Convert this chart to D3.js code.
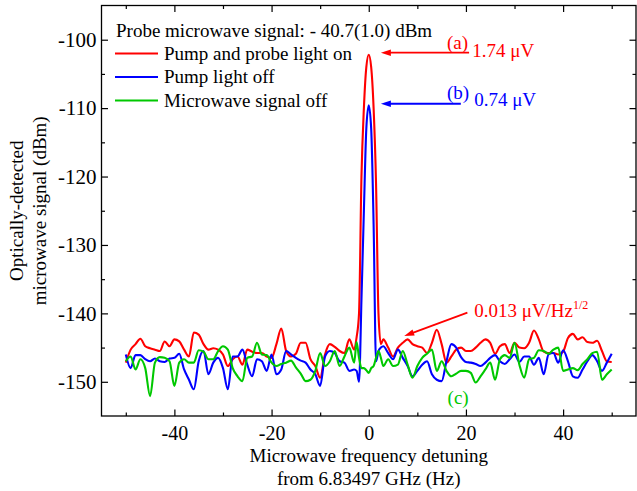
<!DOCTYPE html>
<html>
<head>
<meta charset="UTF-8">
<script src="https://d3js.org/d3.v7.min.js"></script>
<style>
  body { margin: 0; background: #fff; }
  svg text { font-family: "Liberation Serif", "Times New Roman", serif; }
  .tick line { stroke: #000; stroke-width: 1.2; }
  .tick text { font-size: 20px; fill: #000; }
  .yaxis .tick text { font-size: 21px; }
</style>
<title>Microwave signal</title>
</head>
<body>
<svg id="chart" width="637" height="491"></svg>
<script>
// detuning (Hz)
const freq = [-50,-49,-48,-47,-46,-45,-44,-43,-42,-41,
  -40,-39,-38,-37,-36,-35,-34,-33,-32,-31,
  -30,-29,-28,-27,-26,-25,-24,-23,-22,-21,
  -20,-19,-18,-17,-16,-15,-14,-13,-12,-11,
  -10,-9,-8,-7,-6,-5,-4,-3,
  -2.5,-2,-1.5,-1,-0.5,0,0.5,1,1.5,2,2.5,
  3,4,5,6,7,8,9,10,11,12,
  13,14,15,16,17,18,19,20,21,22,
  23,24,25,26,27,28,29,30,31,32,
  33,34,35,36,37,38,39,40,41,42,
  43,44,45,46,47,48,49,50];

// (a) pump and probe light on
const pumpProbeOn = [-147.2,-145.3,-144.5,-143.7,-144.8,-145.1,-145.3,-145.5,-144.1,-144.8,
  -143.8,-144.1,-145.3,-146.3,-142.8,-143.1,-144.5,-145.3,-145.1,-145.3,
  -146.0,-147.7,-146.7,-146.3,-147.5,-145.3,-145.6,-145.8,-145.8,-146.3,
  -146.5,-144.5,-142.2,-145.5,-146.3,-145.9,-144.3,-144.3,-146.7,-147.7,
  -149.4,-146.0,-144.5,-144.9,-145.5,-145.8,-143.8,-145.3,
  -143.5,-140,-120,-110,-104,-102.2,-104,-110,-121,-140,-144.5,
  -143.8,-145.0,-146.3,-145.0,-144.3,-143.8,-144.5,-144.8,-145.0,-145.8,
  -144.3,-142.4,-144.5,-147.2,-146.3,-145.3,-145.0,-145.5,-145.5,-145.0,
  -144.3,-143.8,-144.3,-145.9,-144.8,-144.5,-145.8,-144.3,-145.0,-145.1,
  -144.3,-142.5,-143.8,-145.6,-145.8,-145.8,-146.0,-145.6,-143.6,-143.0,
  -143.8,-143.5,-144.2,-144.3,-144.0,-145.5,-147.0,-147.1];

// (b) pump light off
const pumpOff = [-146.0,-148.0,-146.1,-146.1,-146.7,-147.0,-146.6,-147.0,-147.1,-146.6,
  -146.5,-145.9,-148.2,-149.7,-151.1,-147.0,-145.5,-148.9,-147.2,-146.5,
  -148.0,-151.1,-146.3,-146.3,-145.3,-147.5,-149.2,-146.7,-147.0,-148.4,
  -146.0,-148.9,-148.2,-145.5,-146.0,-146.5,-146.9,-147.2,-148.2,-148.9,
  -150.6,-146.3,-145.5,-145.8,-147.0,-147.2,-148.4,-148.2,
  -148.4,-150.0,-138,-125,-113,-109.6,-113,-127,-147,-145.5,-145.0,
  -144.8,-145.8,-146.7,-145.3,-146.5,-147.7,-149.2,-148.4,-147.5,-147.0,
  -148.9,-149.7,-149.9,-147.0,-144.5,-145.0,-146.4,-147.1,-147.2,-147.4,
  -147.7,-147.2,-146.5,-146.1,-147.0,-147.4,-146.7,-146.0,-147.1,-146.3,
  -146.3,-147.5,-146.5,-148.9,-146.0,-145.8,-147.2,-145.4,-147.0,-149.2,
  -149.4,-148.2,-147.0,-146.1,-147.0,-148.4,-147.2,-145.9];

// (c) microwave signal off
const microwaveOff = [-147.0,-146.3,-148.2,-146.7,-148.0,-152.1,-147.2,-146.4,-146.5,-147.0,
  -150.6,-147.2,-146.7,-147.2,-147.2,-145.4,-145.6,-146.7,-146.7,-145.5,
  -144.8,-145.3,-148.0,-149.2,-149.9,-146.5,-146.3,-144.3,-146.0,-146.1,
  -147.2,-147.7,-147.4,-147.2,-146.9,-147.9,-148.8,-149.9,-149.7,-148.4,
  -145.8,-147.7,-147.0,-145.5,-147.7,-146.3,-145.0,-147.2,
  -144.2,-146.5,-148.0,-148.0,-148.3,-148.7,-148.0,-147.7,-146.5,-145.5,-146.5,
  -147.7,-146.7,-147.7,-147.5,-145.5,-147.5,-149.4,-147.7,-146.5,-145.9,
  -145.3,-148.4,-147.0,-148.4,-149.2,-148.8,-148.4,-148.4,-148.7,-150.1,
  -149.2,-148.2,-147.2,-149.7,-146.7,-146.1,-146.5,-144.3,-147.5,-149.4,
  -146.7,-146.5,-145.4,-145.5,-145.9,-145.3,-145.0,-148.4,-148.2,-148.0,
  -148.3,-147.4,-146.7,-145.8,-145.6,-149.7,-148.9,-148.2];

const xTicks = [-40, -20, 0, 20, 40];
const xMinor = [-50, -30, -10, 10, 30, 50];
const yTicks = [-100, -110, -120, -130, -140, -150];
const yMinor = [-105, -115, -125, -135, -145];

const seriesNames = ["Pump and probe light on", "Pump light off", "Microwave signal off"];
const seriesColors = ["#ff0000", "#0000ff", "#00c800"];
const seriesValues = [pumpProbeOn, pumpOff, microwaveOff];

const svg = d3.select("#chart");
const plotLeft = 101.5, plotRight = 636, plotTop = 5.5, plotBottom = 416;

const x = d3.scaleLinear().domain([-55, 55]).range([plotLeft, plotRight]);
const y = d3.scaleLinear().domain([-155, -95]).range([plotBottom, plotTop]);

// ticks point inward on all four sides
function drawTicks(axis, values, size, tx, ty, labels, pad) {
  const a = axis.tickValues(values).tickSizeInner(-size).tickSizeOuter(0).tickPadding(pad || 3)
    .tickFormat(labels ? (d => String(d)) : "");
  const g = svg.append("g").attr("transform", "translate(" + tx + "," + ty + ")").call(a);
  g.select(".domain").remove();
  return g;
}
drawTicks(d3.axisBottom(x), xTicks, 6.5, 0, plotBottom, true, 10);
drawTicks(d3.axisBottom(x), xMinor, 3.5, 0, plotBottom, false);
drawTicks(d3.axisTop(x), xTicks, 6.5, 0, plotTop, false);
drawTicks(d3.axisTop(x), xMinor, 3.5, 0, plotTop, false);
drawTicks(d3.axisLeft(y), yTicks, 6.5, plotLeft, 0, true, 5).attr("class", "yaxis");
drawTicks(d3.axisLeft(y), yMinor, 3.5, plotLeft, 0, false);
drawTicks(d3.axisRight(y), yTicks, 6.5, plotRight, 0, false);
drawTicks(d3.axisRight(y), yMinor, 3.5, plotRight, 0, false);

svg.append("rect")
  .attr("x", plotLeft).attr("y", plotTop)
  .attr("width", plotRight - plotLeft).attr("height", plotBottom - plotTop)
  .attr("fill", "none").attr("stroke", "#000").attr("stroke-width", 1.3);

// lines
const line = d3.line()
  .x(d => x(d[0]))
  .y(d => y(d[1]))
  .curve(d3.curveMonotoneX);

seriesValues.forEach((vals, i) => {
  svg.append("path")
    .datum(d3.zip(freq, vals))
    .attr("fill", "none")
    .attr("stroke", seriesColors[i])
    .attr("stroke-width", 2.1)
    .attr("stroke-linejoin", "round")
    .attr("d", line);
});

// legend
const legend = svg.append("g").attr("font-size", 19);
legend.append("text").attr("x", 116).attr("y", 37)
  .text("Probe microwave signal: - 40.7(1.0) dBm");
seriesNames.forEach((name, i) => {
  const ly = 53.5 + i * 23.5;
  legend.append("line")
    .attr("x1", 115).attr("x2", 158).attr("y1", ly).attr("y2", ly)
    .attr("stroke", seriesColors[i]).attr("stroke-width", 2);
  legend.append("text").attr("x", 164).attr("y", ly + 6).text(name);
});

// annotations
function arrow(f1, v1, f2, v2, color) {
  const x1 = x(f1), y1 = y(v1), x2 = x(f2), y2 = y(v2);
  const len = Math.hypot(x2 - x1, y2 - y1), ux = (x2 - x1) / len, uy = (y2 - y1) / len;
  const hl = 10, hw = 3.2;
  const bx = x2 - ux * hl, by = y2 - uy * hl;
  svg.append("line")
    .attr("x1", x1).attr("y1", y1).attr("x2", bx + ux).attr("y2", by + uy)
    .attr("stroke", color).attr("stroke-width", 1.8);
  svg.append("path")
    .attr("d", "M" + x2 + "," + y2 + "L" + (bx - uy * hw) + "," + (by + ux * hw) +
      "L" + (bx + uy * hw) + "," + (by - ux * hw) + "Z")
    .attr("fill", color);
}
arrow(20.65, -101.9, 2.5, -101.9, seriesColors[0]);
arrow(18.95, -109.36, 2.5, -109.36, seriesColors[1]);
arrow(20.3, -139.9, 7.3, -143.3, seriesColors[0]);

function label(f, v, txt, color, anchor) {
  return svg.append("text").attr("x", x(f)).attr("y", y(v))
    .attr("font-size", 19).attr("fill", color)
    .attr("text-anchor", anchor || "start").text(txt);
}
label(16.1, -101.3, "(a)", seriesColors[0]);
label(21.3, -102.6, "1.74 μV", seriesColors[0]);
label(16.1, -108.6, "(b)", seriesColors[1]);
label(21.7, -109.75, "0.74 μV", seriesColors[1]);
label(18.4, -153.2, "(c)", seriesColors[2], "middle");
const nd = label(21.7, -140.6, "0.013 μV/Hz", seriesColors[0]);
nd.append("tspan").attr("dy", -8).attr("font-size", 12).text("1/2");

// axis titles
const xt = svg.append("text").attr("text-anchor", "middle").attr("font-size", 19);
xt.append("tspan").attr("x", x(0)).attr("y", 462).text("Microwave frequency detuning");
xt.append("tspan").attr("x", x(0)).attr("y", 485).text("from 6.83497 GHz (Hz)");

const yt = svg.append("text").attr("text-anchor", "middle").attr("font-size", 19)
  .attr("transform", "translate(0," + ((plotTop + plotBottom) / 2) + ") rotate(-90)");
yt.append("tspan").attr("x", 0).attr("y", 23).text("Optically-detected");
yt.append("tspan").attr("x", 0).attr("y", 46).text("microwave signal (dBm)");
</script>
</body>
</html>
